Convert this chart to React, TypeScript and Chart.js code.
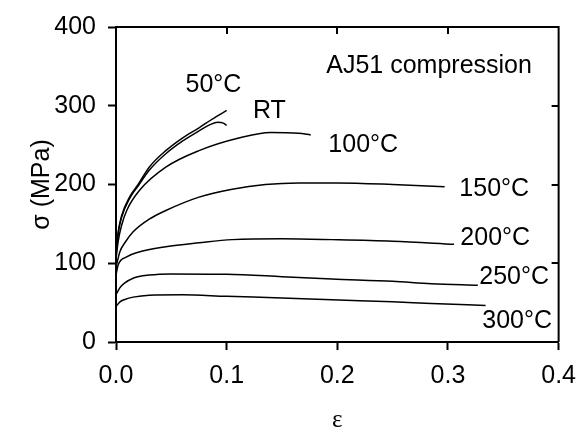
import React, { useEffect, useRef } from "react";
import { Chart, registerables } from "chart.js";

Chart.register(...registerables);

// Strain (ε) and stress (σ, MPa)
const eps50C = [0, 0.002, 0.005, 0.0126, 0.02, 0.03, 0.045, 0.06, 0.075, 0.087, 0.1];
const sig50C = [115, 140, 160, 185, 200, 222, 243, 259, 272, 283, 294];

const epsRT = [0, 0.002, 0.005, 0.0126, 0.02, 0.03, 0.045, 0.06, 0.075, 0.085, 0.092, 0.097, 0.1];
const sigRT = [110, 138, 158, 183, 198, 218, 239, 255, 268, 276, 279, 278, 275];

const eps100C = [0, 0.002, 0.005, 0.01, 0.0215, 0.045, 0.075, 0.111, 0.14, 0.165, 0.176];
const sig100C = [105, 128, 148, 168, 193, 222, 243, 259, 266, 265, 263];

const eps150C = [0, 0.0036, 0.008, 0.0155, 0.03, 0.045, 0.075, 0.105, 0.135, 0.165, 0.2, 0.25, 0.297];
const sig150C = [95, 115, 126, 140, 156, 167, 184, 194, 200, 202, 202, 200, 197];

const eps200C = [0, 0.002, 0.0096, 0.02, 0.045, 0.075, 0.105, 0.15, 0.195, 0.25, 0.3055];
const sig200C = [85, 98, 108, 114, 121, 126, 130, 131, 130, 128, 124];

const eps250C = [0, 0.0036, 0.008, 0.0155, 0.03, 0.05, 0.1, 0.15, 0.195, 0.25, 0.285, 0.327];
const sig250C = [60, 69, 75, 81, 85, 86.5, 86, 83, 80, 77, 74, 72];

const eps300C = [0, 0.0036, 0.008, 0.0155, 0.03, 0.06, 0.1, 0.15, 0.195, 0.25, 0.285, 0.334];
const sig300C = [45, 51, 54, 57, 59.5, 60, 58, 56, 53.6, 51, 49, 46.5];

const xTickValues = [0, 0.1, 0.2, 0.3, 0.4];
const yTickValues = [0, 100, 200, 300, 400];

// Curve labels anchored in data units (ε, σ)
const labelTexts = ["50°C", "RT", "100°C", "150°C", "200°C", "250°C", "300°C", "AJ51 compression"];
const labelEps = [0.0628, 0.1238, 0.1919, 0.3103, 0.3112, 0.3283, 0.331, 0.19];
const labelSig = [316.9, 284.7, 241.2, 185.4, 123.4, 73.8, 18, 341.7];

const SANS = '"Liberation Sans", Arial, Helvetica, sans-serif';

function toPoints(xs: number[], ys: number[]) {
  return xs.map((v, i) => ({ x: v, y: ys[i] }));
}

const framePlugin = {
  id: "frameAndLabels",
  afterDraw(chart: any) {
    const { ctx, chartArea: a, scales } = chart;
    const xs = scales.x;
    const ys = scales.y;
    ctx.save();
    ctx.strokeStyle = "#000";
    ctx.lineWidth = 2;
    ctx.beginPath();
    ctx.moveTo(a.left, a.top);
    ctx.lineTo(a.right, a.top);
    ctx.lineTo(a.right, a.bottom);
    ctx.stroke();
    // inward ticks on top and right
    ctx.beginPath();
    xTickValues.slice(1, -1).forEach((v) => {
      const px = Math.round(xs.getPixelForValue(v));
      ctx.moveTo(px, a.top);
      ctx.lineTo(px, a.top + 7);
    });
    yTickValues.slice(1, -1).forEach((v) => {
      const py = Math.round(ys.getPixelForValue(v));
      ctx.moveTo(a.right, py);
      ctx.lineTo(a.right - 7, py);
    });
    ctx.stroke();
    // labels
    ctx.fillStyle = "#000";
    ctx.font = `25px ${SANS}`;
    ctx.textAlign = "left";
    ctx.textBaseline = "alphabetic";
    labelTexts.forEach((t, i) => {
      ctx.fillText(t, xs.getPixelForValue(labelEps[i]), ys.getPixelForValue(labelSig[i]));
    });
    ctx.restore();
  },
};

export default function App() {
  const ref = useRef<HTMLCanvasElement | null>(null);

  useEffect(() => {
    if (!ref.current) return;
    const series = [
      [eps50C, sig50C],
      [epsRT, sigRT],
      [eps100C, sig100C],
      [eps150C, sig150C],
      [eps200C, sig200C],
      [eps250C, sig250C],
      [eps300C, sig300C],
    ];
    const chart = new Chart(ref.current, {
      type: "line",
      data: {
        datasets: series.map(([xs, ys]) => ({
          data: toPoints(xs, ys),
          borderColor: "#000",
          borderWidth: 1.5,
          pointRadius: 0,
          fill: false,
          cubicInterpolationMode: "monotone" as const,
        })),
      },
      options: {
        responsive: false,
        animation: false,
        events: [],
        layout: { padding: { top: 20, right: 25, left: 0, bottom: 0 } },
        plugins: { legend: { display: false }, tooltip: { enabled: false } },
        scales: {
          x: {
            type: "linear",
            min: 0,
            max: 0.4,
            afterFit: (s: any) => {
              s.height = 91;
            },
            afterBuildTicks: (s: any) => {
              s.ticks = xTickValues.map((v) => ({ value: v }));
            },
            ticks: {
              color: "#000",
              font: { family: SANS, size: 25 },
              padding: 11,
              maxRotation: 0,
              callback: (v: any) => Number(v).toFixed(1),
            },
            grid: {
              drawOnChartArea: false,
              drawTicks: true,
              tickLength: 8,
              tickWidth: 2,
              color: "#000",
            },
            border: { display: true, color: "#000", width: 2 },
            title: {
              display: true,
              text: "ε",
              color: "#000",
              font: { family: '"Liberation Serif", "Times New Roman", serif', size: 25, lineHeight: 1 },
              padding: { top: 0, bottom: 0 },
            },
          },
          y: {
            type: "linear",
            min: 0,
            max: 400,
            afterFit: (s: any) => {
              s.width = 116;
            },
            afterBuildTicks: (s: any) => {
              s.ticks = yTickValues.map((v) => ({ value: v }));
            },
            ticks: {
              color: "#000",
              font: { family: SANS, size: 25 },
              padding: 12,
              callback: (v: any) => String(v),
            },
            grid: {
              drawOnChartArea: false,
              drawTicks: true,
              tickLength: 8,
              tickWidth: 2,
              color: "#000",
            },
            border: { display: true, color: "#000", width: 2 },
            title: {
              display: true,
              text: "σ (MPa)",
              color: "#000",
              font: { family: SANS, size: 25 },
              padding: { top: 27, bottom: 0 },
            },
          },
        },
      },
      plugins: [framePlugin],
    });
    return () => chart.destroy();
  }, []);

  return (
    <div style={{ position: "fixed", left: 0, top: 0, width: 587, height: 433, background: "#fff" }}>
      <canvas ref={ref} width={587} height={433} style={{ display: "block" }} />
    </div>
  );
}
